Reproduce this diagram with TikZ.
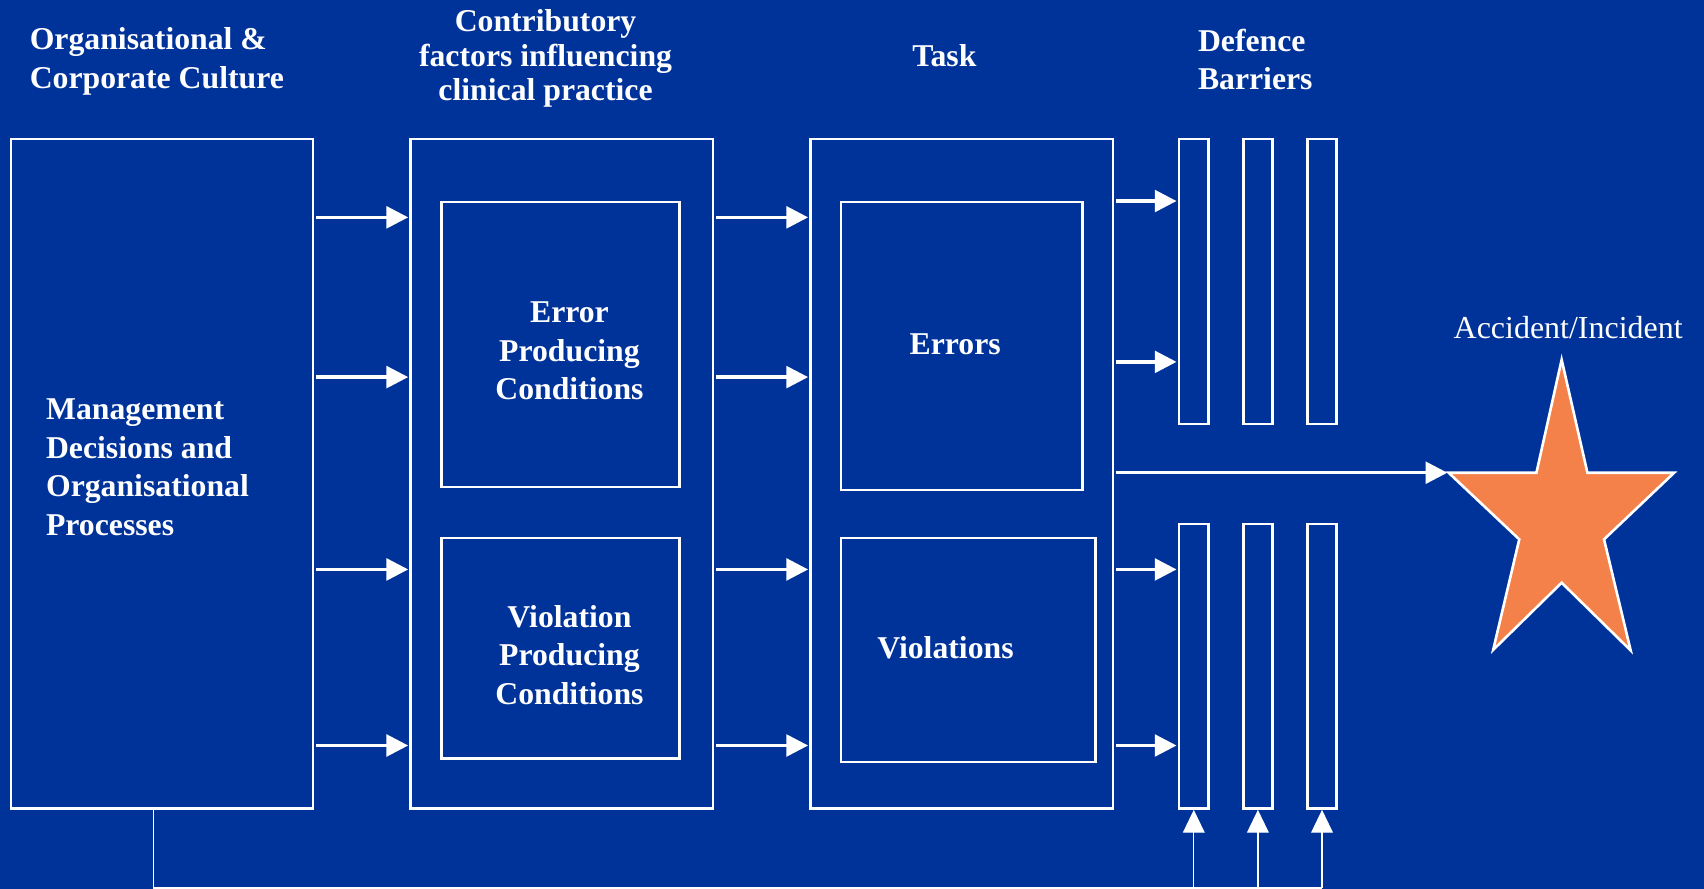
\documentclass[tikz,border=0pt]{standalone}
\usepackage{fontspec}
\setmainfont{Liberation Serif}
\usetikzlibrary{arrows.meta}
\definecolor{bgblue}{RGB}{0,51,153}
\definecolor{starorange}{RGB}{244,128,74}
\tikzset{
  x=0.5pt, y=-0.5pt,
  box/.style={draw=white, line width=1.2pt, rectangle, inner sep=0pt},
  bar/.style={draw=white, line width=1.2pt, rectangle, inner sep=0pt, minimum width=13.5pt, minimum height=131pt},
  lbl/.style={text=white, font=\fontsize{14.6}{17.7}\selectfont\bfseries, inner sep=0pt},
  arr/.style={draw=white, line width=1.5pt, shorten <=1pt, shorten >=0.6pt, -{Triangle[length=10pt,width=10pt]}},
  thinarr/.style={draw=white, line width=0.6pt, -{Triangle[length=10.5pt,width=10pt]}},
  thin/.style={draw=white, line width=0.6pt},
}
\begin{document}
\begin{tikzpicture}
\fill[bgblue] (0,0) rectangle (1568,818);
\useasboundingbox (0,0) rectangle (1568,818);
% headings
\node[lbl, align=left, anchor=west] (h1) at (27,56.5) {Organisational \&\\Corporate Culture};
\node[lbl, align=center, font=\fontsize{14.6}{15.8}\selectfont\bfseries] (h2) at (502,54) {Contributory\\factors influencing\\clinical practice};
\node[lbl] (h3) at (869,51) {Task};
\node[lbl, align=left, anchor=west] (h4) at (1102,54.5) {Defence\\Barriers};
% main boxes
\node[box, minimum width=139pt, minimum height=308pt] (L) at (149,436) {};
\node[box, minimum width=139pt, minimum height=308pt] (M) at (517,436) {};
\node[box, minimum width=139pt, minimum height=308pt] (T) at (885,436) {};
% inner boxes
\node[box, minimum width=109.5pt, minimum height=131pt] (EPC) at (515.5,317) {};
\node[box, minimum width=109.5pt, minimum height=101.5pt] (VPC) at (515.5,596.5) {};
\node[box, minimum width=111pt, minimum height=132.5pt] (E) at (885,318.5) {};
\node[box, minimum width=117pt, minimum height=103pt] (V) at (891,598) {};
% texts
\node[lbl, align=left, anchor=west] (mtxt) at (42,430) {Management\\Decisions and\\Organisational\\Processes};
\node[lbl, align=center] (epct) at (524,323) {Error\\Producing\\Conditions};
\node[lbl, align=center] (vpct) at (524,602.5) {Violation\\Producing\\Conditions};
\node[lbl] (et) at (879,317) {Errors};
\node[lbl] (vt) at (870,596) {Violations};
% barriers
\node[bar] (B1t) at (1098.5,259) {};
\node[bar] (B2t) at (1157.5,259) {};
\node[bar] (B3t) at (1216.5,259) {};
\node[bar] (B1b) at (1098.5,613) {};
\node[bar] (B2b) at (1157.5,613) {};
\node[bar] (B3b) at (1216.5,613) {};
% star
\coordinate (sT) at (1437,331);
\coordinate (sL) at (1333,435);
\coordinate (sR) at (1540.5,435);
\coordinate (sBL) at (1374,598);
\coordinate (sBR) at (1500.5,598.5);
\coordinate (iL) at (1413.8,435);
\coordinate (iR) at (1460.7,435);
\coordinate (iBL) at (1398,496.3);
\coordinate (iBR) at (1476,496.3);
\coordinate (iB) at (1437,536.2);
\fill[starorange, draw=white, line width=1.2pt] (sT) -- (iR) -- (sR) -- (iBR) -- (sBR) -- (iB) -- (sBL) -- (iBL) -- (sL) -- (iL) -- cycle;
\node[text=white, font=\fontsize{14.7}{17.7}\selectfont, inner sep=0pt] (acc) at (1443,301) {Accident/Incident};
% arrows L -> M, M -> T
\foreach \yy in {200,347,524,686} {
  \draw[arr] (L.east |- 0,\yy) -- (M.west |- 0,\yy);
  \draw[arr] (M.east |- 0,\yy) -- (T.west |- 0,\yy);
}
% arrows T -> barriers
\draw[arr] (T.east |- 0,185) -- (B1t.west |- 0,185);
\draw[arr] (T.east |- 0,333) -- (B1t.west |- 0,333);
\draw[arr] (T.east |- 0,524) -- (B1b.west |- 0,524);
\draw[arr] (T.east |- 0,686) -- (B1b.west |- 0,686);
% arrow T -> star
\draw[arr] (T.east |- sL) -- (sL);
% bottom feedback lines
\coordinate (bl) at (141,817);
\draw[thin] (L.south -| bl) -- (bl) -- (B3b.south |- bl);
\draw[thinarr] (B1b.south |- bl) -- (B1b.south);
\draw[thinarr] (B2b.south |- bl) -- (B2b.south);
\draw[thinarr] (B3b.south |- bl) -- (B3b.south);
\end{tikzpicture}
\end{document}
